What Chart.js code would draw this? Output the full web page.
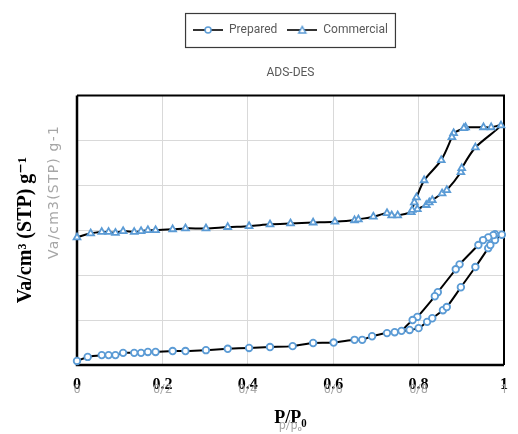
<!DOCTYPE html>
<html>
<head>
<meta charset="utf-8">
<script src="https://cdn.jsdelivr.net/npm/chart.js@4.4.0/dist/chart.umd.min.js"></script>
<style>
  html, body { margin: 0; padding: 0; background: #fff; }
</style>
</head>
<body>
<canvas id="chart" width="518" height="434"></canvas>
<script>
// series names
var seriesNames = ["Prepared", "Commercial"];

// Prepared: adsorption branch (P/P0, Va)
var preparedAdsX = [0, 0.025, 0.058, 0.074, 0.090, 0.108, 0.134, 0.150, 0.166, 0.184, 0.224, 0.254, 0.302, 0.353, 0.403,
                    0.452, 0.505, 0.553, 0.601, 0.650, 0.668, 0.691, 0.726, 0.744, 0.779, 0.800, 0.820, 0.832, 0.857,
                    0.866, 0.899, 0.933, 0.963, 0.968, 0.979, 0.995];
var preparedAdsY = [9, 18, 22, 22, 22, 27, 27, 27, 29, 29, 31, 31, 33, 36, 38,
                    40, 42, 49, 50, 56, 56, 64, 71, 73, 78, 82, 96, 104, 122,
                    129, 173, 218, 260, 267, 278, 290];
// Prepared: desorption branch
var preparedDesX = [0.979, 0.975, 0.963, 0.951, 0.940, 0.896, 0.887, 0.845, 0.838, 0.797, 0.786, 0.760];
var preparedDesY = [291, 289, 284, 278, 267, 224, 213, 162, 153, 107, 100, 76];

// Commercial: adsorption branch
var commercialAdsX = [0, 0.032, 0.058, 0.074, 0.090, 0.108, 0.134, 0.150, 0.166, 0.184, 0.224, 0.254, 0.302, 0.353, 0.403,
                      0.452, 0.500, 0.553, 0.604, 0.650, 0.659, 0.694, 0.726, 0.737, 0.751, 0.783, 0.797, 0.818, 0.825,
                      0.832, 0.855, 0.866, 0.899, 0.901, 0.933, 0.993];
var commercialAdsY = [284, 293, 296, 296, 294, 298, 296, 298, 300, 300, 302, 304, 304, 307, 309,
                      313, 315, 317, 319, 322, 324, 330, 338, 333, 333, 340, 347, 356, 362,
                      367, 382, 389, 429, 438, 484, 533];
// Commercial: desorption branch
var commercialDesX = [0.970, 0.952, 0.910, 0.906, 0.882, 0.878, 0.853, 0.813, 0.795, 0.790, 0.785];
var commercialDesY = [529, 529, 529, 527, 516, 507, 456, 411, 373, 362, 345];

// axes
var xTicks = [0, 0.2, 0.4, 0.6, 0.8, 1];
var xTickLabels = ["0", "0.2", "0.4", "0.6", "0.8", "1"];
var xGhostLabels = ["0", "0/2", "0/4", "0/6", "0/8", "1"];
var yMin = 0, yMax = 600, yStep = 100;

var markerBlue = "#5b9bd5";

function toPoints(xs, ys) {
  var pts = [];
  for (var i = 0; i < xs.length; i++) pts.push({ x: xs[i], y: ys[i] });
  return pts;
}

// legend icon: line with marker in the middle
function makeIcon(style) {
  var c = document.createElement("canvas");
  c.width = 30; c.height = 10;
  var g = c.getContext("2d");
  g.strokeStyle = "#000"; g.lineWidth = 1.6;
  g.beginPath(); g.moveTo(0, 5); g.lineTo(30, 5); g.stroke();
  g.fillStyle = "#fff"; g.strokeStyle = markerBlue; g.lineWidth = 1.5;
  g.beginPath();
  if (style == "circle") {
    g.arc(15, 5, 3, 0, Math.PI * 2);
  } else {
    g.moveTo(15, 1.5); g.lineTo(18.5, 8); g.lineTo(11.5, 8); g.closePath();
  }
  g.fill(); g.stroke();
  return c;
}
var legendIcons = [makeIcon("circle"), makeIcon("triangle")];

var narrowFont = "Roboto, 'Noto Sans', sans-serif";
var sansFont = "'DejaVu Sans', 'Noto Sans', sans-serif";
var serifFont = "'Liberation Serif', 'DejaVu Serif', serif";

var framePlugin = {
  id: "frame",
  beforeDatasetsDraw: function(chart) {
    var a = chart.chartArea, ctx = chart.ctx;
    ctx.save();
    ctx.strokeStyle = "#000";
    ctx.lineWidth = 2;
    ctx.beginPath();
    ctx.moveTo(a.left, a.top); ctx.lineTo(a.right, a.top); ctx.lineTo(a.right, a.bottom);
    ctx.stroke();
    ctx.lineWidth = 2.5;
    ctx.beginPath();
    ctx.moveTo(a.left, a.top); ctx.lineTo(a.left, a.bottom); ctx.lineTo(a.right, a.bottom);
    ctx.stroke();
    ctx.restore();
  }
};

var extrasPlugin = {
  id: "extras",
  afterDraw: function(chart) {
    var ctx = chart.ctx, xs = chart.scales.x;
    ctx.save();
    // faint duplicate labels seen in the original figure
    ctx.fillStyle = "#a6a6a6";
    ctx.textAlign = "center";
    ctx.textBaseline = "middle";
    ctx.font = "12px " + narrowFont;
    for (var i = 0; i < xTicks.length; i++) {
      ctx.fillText(xGhostLabels[i], xs.getPixelForValue(xTicks[i]), 390);
    }
    ctx.fillText("p/p\u2080", (xs.left + xs.right) / 2, 426);
    ctx.save();
    ctx.translate(54, 192);
    ctx.rotate(-Math.PI / 2);
    ctx.font = "14px " + sansFont;
    var txt = "Va/cm3(STP) g-1";
    var w = ctx.measureText(txt).width;
    ctx.letterSpacing = Math.min(1.2, Math.max(0, (160 - w) / (txt.length - 1))).toFixed(2) + "px";
    ctx.fillText(txt, 0, 0);
    ctx.restore();

    // legend frame
    var hb = chart.legend.legendHitBoxes;
    if (hb && hb.length) {
      var first = hb[0], last = hb[hb.length - 1];
      ctx.strokeStyle = "#3a3a3a";
      ctx.lineWidth = 1.2;
      ctx.strokeRect(first.left - 7.5, first.top - 10.5, (last.left + last.width) - first.left + 15, first.height + 22);
    }
    ctx.restore();
  }
};

new Chart(document.getElementById("chart"), {
  type: "scatter",
  data: {
    datasets: [
      {
        label: seriesNames[0],
        data: toPoints(preparedAdsX.concat(preparedDesX), preparedAdsY.concat(preparedDesY)),
        showLine: true,
        borderColor: "#000",
        borderWidth: 2,
        tension: 0.3,
        pointStyle: "circle",
        pointRadius: 3.3,
        pointBorderWidth: 1.8,
        pointBorderColor: markerBlue,
        pointBackgroundColor: "#fff",
        clip: false
      },
      {
        label: seriesNames[1],
        data: toPoints(commercialAdsX.concat(commercialDesX), commercialAdsY.concat(commercialDesY)),
        showLine: true,
        borderColor: "#000",
        borderWidth: 2,
        tension: 0.3,
        pointStyle: "triangle",
        pointRadius: 3.9,
        pointBorderWidth: 1.8,
        pointBorderColor: markerBlue,
        pointBackgroundColor: "#fff",
        clip: false
      }
    ]
  },
  options: {
    responsive: false,
    animation: false,
    devicePixelRatio: 1,
    layout: { padding: { top: 14, right: 7, bottom: 0, left: 0 } },
    plugins: {
      tooltip: { enabled: false },
      legend: {
        position: "top",
        fullSize: false,
        labels: {
          usePointStyle: true,
          pointStyleWidth: 30,
          padding: 10,
          color: "#595959",
          font: { size: 12, family: narrowFont },
          generateLabels: function(chart) {
            var items = Chart.defaults.plugins.legend.labels.generateLabels(chart);
            items.forEach(function(item, i) { item.pointStyle = legendIcons[i]; });
            return items;
          }
        }
      },
      title: {
        display: true,
        text: "ADS-DES",
        weight: 100,
        fullSize: false,
        color: "#595959",
        font: { size: 12, weight: "normal", family: narrowFont },
        padding: { top: 20, bottom: 15 }
      }
    },
    scales: {
      x: {
        type: "linear",
        min: 0,
        max: 1,
        afterBuildTicks: function(scale) {
          scale.ticks = xTicks.map(function(v) { return { value: v }; });
        },
        afterFit: function(scale) { scale.height = 69; },
        grid: { color: "#d9d9d9", lineWidth: 1, drawTicks: false },
        border: { display: false },
        ticks: {
          padding: 10,
          color: "#000",
          font: { size: 16, weight: "bold", family: serifFont },
          callback: function(value, index) { return xTickLabels[index]; }
        },
        title: {
          display: true,
          text: "P/P\u2080",
          color: "#000",
          font: { size: 18, weight: "bold", family: serifFont },
          padding: { top: 0, bottom: 5 }
        }
      },
      y: {
        min: yMin,
        max: yMax,
        afterFit: function(scale) { scale.width = 77; },
        grid: { color: "#d9d9d9", lineWidth: 1, drawTicks: false },
        border: { display: false },
        ticks: { display: false, stepSize: yStep },
        title: {
          display: true,
          text: "Va/cm\u00b3 (STP) g\u207b\u00b9",
          color: "#000",
          font: { size: 20, weight: "bold", family: serifFont },
          padding: { top: 14, bottom: 0 }
        }
      }
    }
  },
  plugins: [framePlugin, extrasPlugin]
});
</script>
</body>
</html>
